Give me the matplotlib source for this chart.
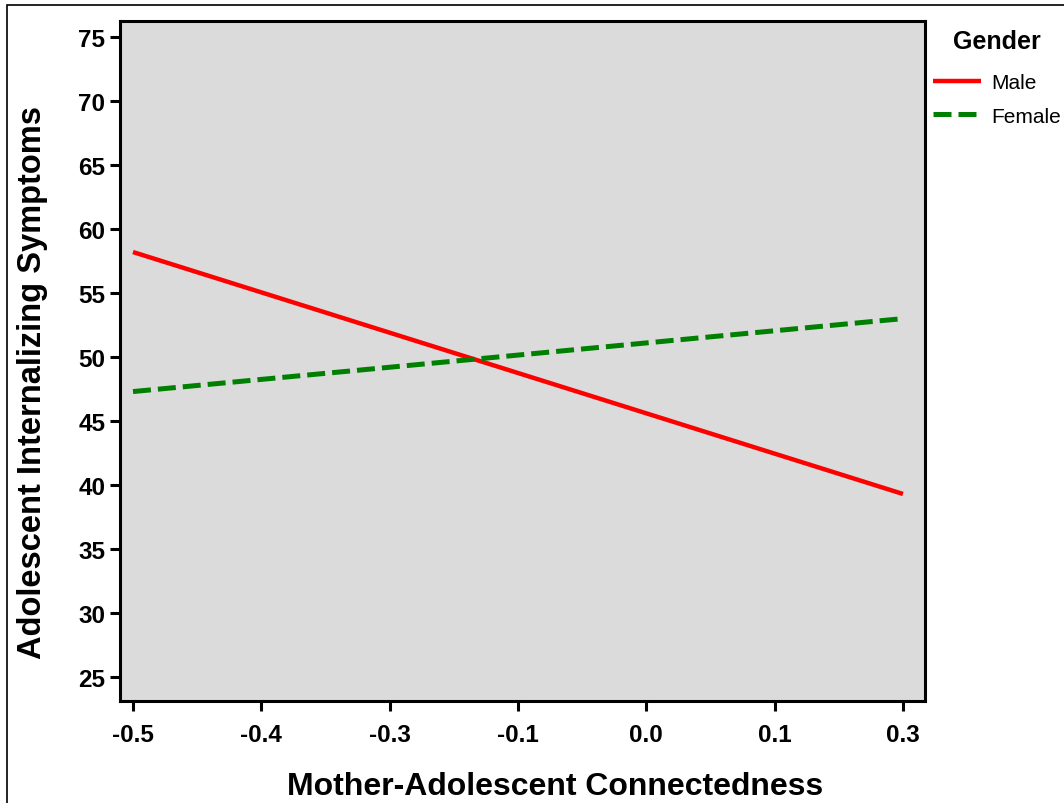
import matplotlib
matplotlib.use("Agg")
from matplotlib import pyplot as plt
from matplotlib.patches import Rectangle

plt.rcParams['font.family'] = ['Liberation Sans', 'DejaVu Sans']

# simple slopes: end points of each gender line
x_ends = [-0.5, 0.3]
male = [58.2, 39.3]
female = [47.3, 53.0]

# SPSS-style ticks: evenly spaced, labels rounded as in the original
x_ticks = [-0.5 + k * 0.8 / 6 for k in range(7)]
x_labels = ['-0.5', '-0.4', '-0.3', '-0.1', '0.0', '0.1', '0.3']
y_ticks = [25, 30, 35, 40, 45, 50, 55, 60, 65, 70, 75]

fig = plt.figure(figsize=(10.64, 8.04), dpi=100)
ax = fig.add_axes([120 / 1064, 1 - 702 / 804, 805 / 1064, 680 / 804])
ax.set_facecolor('#dbdbdb')

ax.plot(x_ends, male, color='#ff0000', lw=3.2, solid_capstyle='butt', label='Male')
ax.plot(x_ends, female, color='#008000', lw=3.6, dashes=(3.6, 1.4), label='Female')

ax.set_xlim(-0.5135, 0.3229)
ax.set_ylim(23.125, 76.25)
ax.set_xticks(x_ticks)
ax.set_xticklabels(x_labels)
ax.set_yticks(y_ticks)

for s in ax.spines.values():
    s.set_linewidth(2.2)
ax.tick_params(direction='out', length=7, width=2.2, labelsize=17.5)
ax.tick_params(axis='x', pad=9)
ax.tick_params(axis='y', pad=3.5)
for lab in ax.get_xticklabels() + ax.get_yticklabels():
    lab.set_fontweight('bold')

ax.set_xlabel('Mother-Adolescent Connectedness', fontsize=23, fontweight='bold')
ax.set_ylabel('Adolescent Internalizing Symptoms', fontsize=23.5, fontweight='bold')
ax.xaxis.set_label_coords(0.54, -0.103)
ax.yaxis.set_label_coords(-0.09, 0.47)

leg = ax.legend(loc='upper left', bbox_to_anchor=(1.0, 1.0), frameon=False,
                title='Gender', fontsize=15, handlelength=2.3, handletextpad=0.5,
                borderaxespad=0.0, labelspacing=0.68)
leg.get_title().set_fontweight('bold')
leg.get_title().set_fontsize(18)
leg._legend_box.align = 'center'
leg._legend_box.sep = 14.5  # a bit more room between title and entries

# thin frame around the whole picture
fig.patches.append(Rectangle((7 / 1064, -0.1), 1.2, 1 - 6 / 804 + 0.1,
                             transform=fig.transFigure, fill=False,
                             edgecolor='black', lw=1.2))

fig.savefig('out.png', dpi=100)
